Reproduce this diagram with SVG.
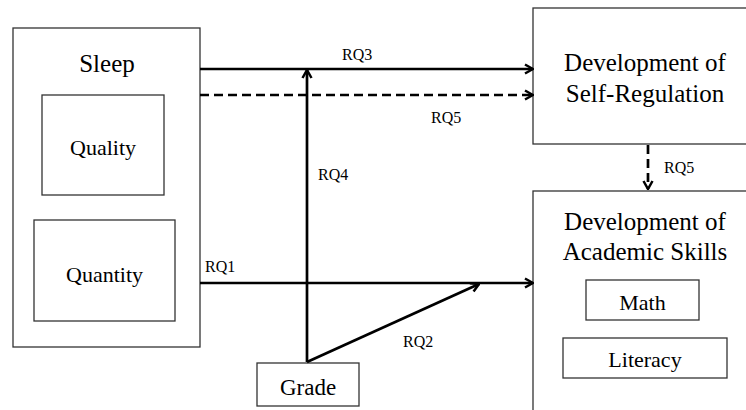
<svg xmlns="http://www.w3.org/2000/svg" width="746" height="410" viewBox="0 0 746 410">
<defs>
<marker id="arr" viewBox="0 0 12 12" refX="11" refY="6" markerWidth="12" markerHeight="12" markerUnits="userSpaceOnUse" orient="auto">
<path d="M3,1.5 L11,6 L3,10.5" fill="none" stroke="#000" stroke-width="2.5"/>
</marker>
</defs>
<style>
.box{fill:#fff;stroke:#333;stroke-width:1.3}
text{font-family:'Liberation Serif','Times New Roman',Tinos,'DejaVu Serif','Noto Serif',serif;fill:#000}
.t{text-anchor:middle}
.big{font-size:25px}
.mid{font-size:22px}
.lab{font-size:16px}
.c{stroke:#000;stroke-width:2.7;fill:none}
.d{stroke-dasharray:9 5}
</style>
<rect width="746" height="410" fill="#fff"/>
<g id="sleep">
<rect class="box" x="13" y="28" width="187" height="319"/>
<text class="t big" x="107" y="72">Sleep</text>
</g>
<g id="quality">
<rect class="box" x="42" y="95" width="122" height="100"/>
<text class="t mid" x="103" y="155">Quality</text>
</g>
<g id="quantity">
<rect class="box" x="34" y="220" width="141" height="101"/>
<text class="t mid" x="104.5" y="282">Quantity</text>
</g>
<g id="selfreg">
<rect class="box" x="533" y="8" width="220" height="136"/>
<text class="t big" x="645" y="71">Development of</text>
<text class="t big" x="645" y="102">Self-Regulation</text>
</g>
<g id="academic">
<rect class="box" x="533" y="191" width="220" height="230"/>
<text class="t big" x="645" y="230">Development of</text>
<text class="t big" x="645" y="260">Academic Skills</text>
</g>
<g id="math">
<rect class="box" x="586" y="280" width="113" height="40"/>
<text class="t mid" x="642.5" y="310">Math</text>
</g>
<g id="literacy">
<rect class="box" x="563" y="338" width="164" height="40"/>
<text class="t mid" x="645" y="367">Literacy</text>
</g>
<g id="grade">
<rect class="box" x="257" y="363" width="102" height="43"/>
<text class="t" style="font-size:23px" x="308" y="395">Grade</text>
</g>
<g id="connectors">
<line class="c" x1="200" y1="69" x2="533" y2="69" marker-end="url(#arr)"/>
<line class="c d" x1="200" y1="95" x2="533" y2="95" marker-end="url(#arr)"/>
<line class="c" x1="307" y1="362" x2="307" y2="70" marker-end="url(#arr)"/>
<line class="c" x1="200" y1="283" x2="533" y2="283" marker-end="url(#arr)"/>
<line class="c" x1="307" y1="362" x2="479" y2="284" marker-end="url(#arr)"/>
<line class="c d" x1="648" y1="145" x2="648" y2="189" marker-end="url(#arr)"/>
<text class="lab" x="342" y="60">RQ3</text>
<text class="lab" x="431" y="123">RQ5</text>
<text class="lab" x="318" y="180">RQ4</text>
<text class="lab" x="205" y="272">RQ1</text>
<text class="lab" x="403" y="347">RQ2</text>
<text class="lab" x="664" y="173">RQ5</text>
</g>
</svg>
